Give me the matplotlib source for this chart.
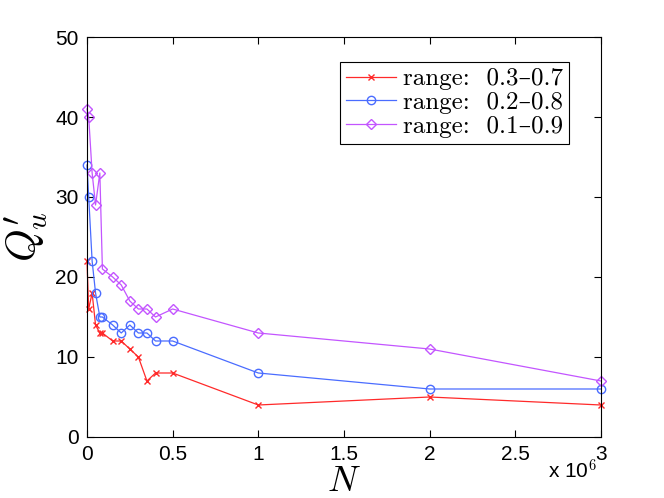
import matplotlib
matplotlib.use("Agg")
import matplotlib.pyplot as plt

plt.rcParams['mathtext.fontset'] = 'cm'
plt.rcParams['font.family'] = ['Liberation Sans', 'DejaVu Sans']

# N values (in units of 10^6)
n_vals = [0.0, 0.01, 0.03, 0.05, 0.075, 0.09, 0.15, 0.2, 0.25, 0.3, 0.35, 0.4, 0.5, 1.0, 2.0, 3.0]
q_03_07 = [22, 16, 18, 14, 13, 13, 12, 12, 11, 10, 7, 8, 8, 4, 5, 4]
q_02_08 = [34, 30, 22, 18, 15, 15, 14, 13, 14, 13, 13, 12, 12, 8, 6, 6]
q_01_09 = [41, 40, 33, 29, 33, 21, 20, 19, 17, 16, 16, 15, 16, 13, 11, 7]

labels = ['range:  0.3–0.7', 'range:  0.2–0.8', 'range:  0.1–0.9']
colors = ['#ff2a2a', '#4a6cff', '#c355ff']

fig = plt.figure(figsize=(6.64, 4.98), dpi=100)
ax = fig.add_axes([0.131, 0.1225, 0.774, 0.8032])

ax.plot(n_vals, q_03_07, color=colors[0], marker='x', ms=5, lw=0.9, label=labels[0], clip_on=False)
ax.plot(n_vals, q_02_08, color=colors[1], marker='o', ms=6, mfc='none', lw=0.9, label=labels[1], clip_on=False)
ax.plot(n_vals, q_01_09, color=colors[2], marker='D', ms=5, mfc='none', lw=0.9, label=labels[2], clip_on=False)

ax.set_xlim(0, 3)
ax.set_ylim(0, 50)
ax.set_xticks([0, 0.5, 1, 1.5, 2, 2.5, 3])
ax.set_xticklabels(['0', '0.5', '1', '1.5', '2', '2.5', '3'])
ax.set_yticks(range(0, 51, 10))
ax.tick_params(direction='in', top=True, right=True, labelsize=15, length=5, pad=6)
for s in ax.spines.values():
    s.set_linewidth(0.8)

ax.set_xlabel(r'$N$', fontsize=26, labelpad=0)
ax.set_ylabel(r"$Q^{\prime}_{u}$", fontsize=30, labelpad=4)
fig.text(0.825, 0.055, r'x 10$^{6}$', fontsize=15, ha='left', va='center')

leg = ax.legend(loc='upper right', bbox_to_anchor=(0.962, 0.97), fancybox=False,
                edgecolor='black', framealpha=1, borderpad=0.25, labelspacing=0.05,
                handlelength=2.0, handletextpad=0.25,
                prop={'family': ['cmr10', 'DejaVu Serif'], 'size': 18})
leg.get_frame().set_linewidth(0.8)

fig.savefig('out.png', dpi=100)
